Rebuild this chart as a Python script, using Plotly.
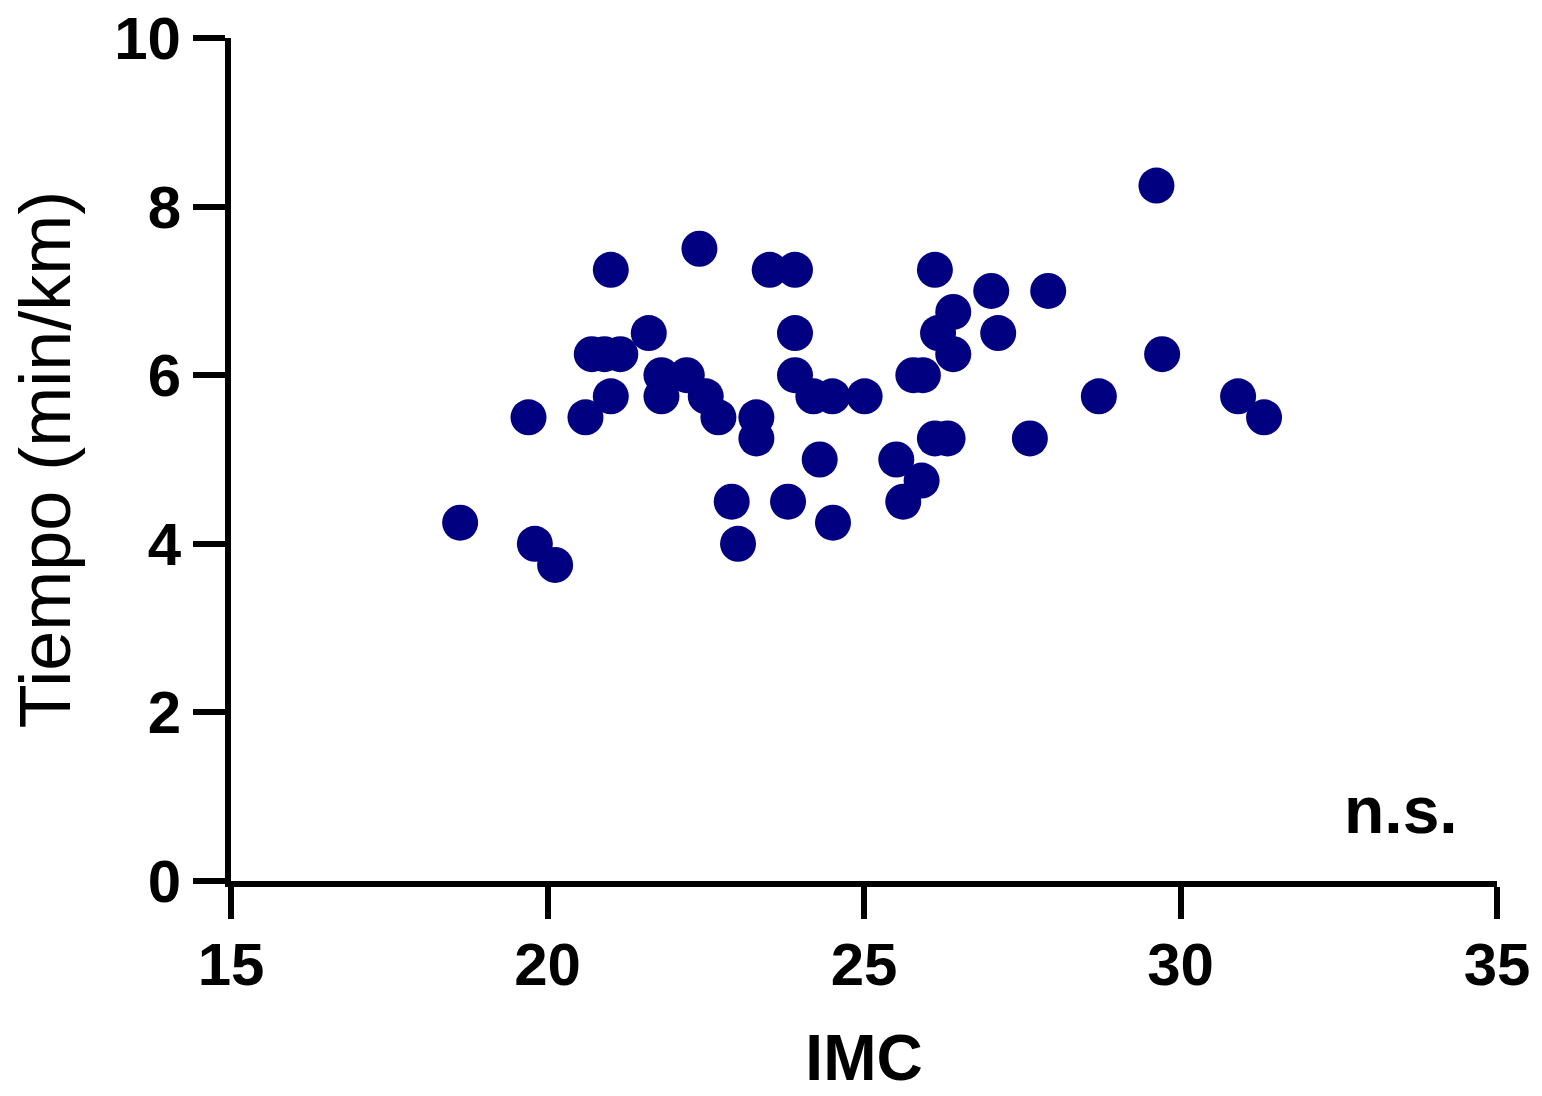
import plotly.graph_objects as go

imc = [21.0, 22.4, 23.51, 23.91, 21.6, 23.91, 20.7, 20.9, 21.15, 21.0, 19.7, 20.6,
       21.8, 21.8, 22.2, 22.5, 22.7, 23.3, 23.3, 23.91, 24.2, 24.5, 25.01, 24.3,
       22.91, 23.8, 23.01, 24.51, 18.62, 19.8, 20.12,
       29.62, 26.12, 27.01, 27.91, 26.41, 26.17, 26.41, 27.12, 25.78, 25.93,
       26.12, 26.32, 25.51, 25.91, 25.62, 27.62, 28.71, 29.71, 30.91, 31.32]
tiempo = [7.25, 7.5, 7.25, 7.25, 6.5, 6.5, 6.25, 6.25, 6.25, 5.75, 5.5, 5.5,
          6.0, 5.75, 6.0, 5.75, 5.5, 5.5, 5.25, 6.0, 5.75, 5.75, 5.75, 5.0,
          4.5, 4.5, 4.0, 4.25, 4.25, 4.0, 3.75,
          8.25, 7.25, 7.0, 7.0, 6.75, 6.5, 6.25, 6.5, 6.0, 6.0,
          5.25, 5.25, 5.0, 4.75, 4.5, 5.25, 5.75, 6.25, 5.75, 5.5]

x_ticks = [15, 20, 25, 30, 35]
y_ticks = [0, 2, 4, 6, 8, 10]

fig = go.Figure()
fig.add_trace(go.Scatter(
    x=imc, y=tiempo, mode="markers",
    marker=dict(size=36, color="#000080", line=dict(width=0)),
    cliponaxis=False, showlegend=False,
))

FAM = "Liberation Sans, Arial, sans-serif"
font_ticks = dict(family=FAM, size=60, color="black")

fig.update_layout(
    width=1542, height=1096,
    margin=dict(l=231, r=45, t=38, b=215),
    plot_bgcolor="white", paper_bgcolor="white",
    xaxis=dict(
        range=[15, 35], tickvals=x_ticks, ticktext=[f"<b>{v}</b>" for v in x_ticks],
        showgrid=False, zeroline=False, showline=True, linecolor="black", linewidth=6,
        ticks="outside", ticklen=32, tickwidth=6, tickcolor="black",
        tickfont=font_ticks, automargin=False, ticklabelstandoff=-6,
        title=dict(text="<b>IMC</b>", font=dict(family=FAM, size=64, color="black"), standoff=40),
    ),
    yaxis=dict(
        range=[0, 10], tickvals=y_ticks, ticktext=[f"<b>{v}</b>" for v in y_ticks],
        showgrid=False, zeroline=False, showline=True, linecolor="black", linewidth=6,
        ticks="outside", ticklen=32, tickwidth=6, tickcolor="black",
        tickfont=font_ticks, automargin=False,
        title=dict(text="Tiempo (min/km)", font=dict(family=FAM, size=72, color="black"), standoff=22),
    ),
    annotations=[dict(
        x=33.48, y=0.84, xref="x", yref="y", text="<b>n.s.</b>", showarrow=False,
        font=dict(family=FAM, size=66, color="black"),
    )],
)

fig.write_html("out.html")
